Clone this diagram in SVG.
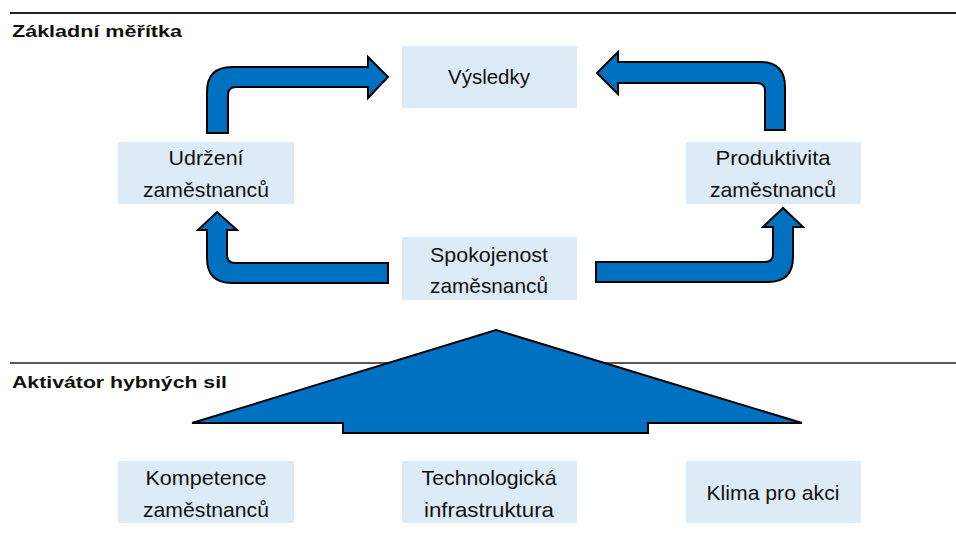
<svg xmlns="http://www.w3.org/2000/svg" width="956" height="549" viewBox="0 0 956 549">
<style>
.box{fill:#DDEBF7}
.t{font-family:"Liberation Sans",Arial,sans-serif;font-size:21px;fill:#111;text-anchor:middle}
.h{font-family:"Liberation Sans",Arial,sans-serif;font-size:17px;font-weight:bold;fill:#111}
.arr{fill:#0070C0;stroke:#000;stroke-width:2;stroke-linejoin:miter}
.rule{stroke:#222;fill:none}
</style>
<rect width="956" height="549" fill="#fff"/>
<line class="rule" x1="10" y1="13" x2="956" y2="13" stroke-width="2"/>
<line class="rule" x1="10" y1="363" x2="956" y2="363" stroke-width="1.5"/>
<text class="h" x="12" y="37" textLength="170" lengthAdjust="spacingAndGlyphs">Základní měřítka</text>
<text class="h" x="12" y="388" textLength="215" lengthAdjust="spacingAndGlyphs">Aktivátor hybných sil</text>

<g id="connectors">
<path class="arr" d="M207,133 L207,92 Q207,67 232,67 L368,67 L368,57 L388,77 L368,98 L368,87 L236,87 Q228,87 228,95 L228,133 Z"/>
<path class="arr" d="M785,130 L785,87 Q785,62 760,62 L618,62 L618,52 L597,73 L618,94 L618,83 L757,83 Q765,83 765,91 L765,130 Z"/>
<path class="arr" d="M388,263 L235,263 Q227,263 227,255 L227,230 L237,230 L217,212 L198,230 L207,230 L207,258 Q207,283 232,283 L388,283 Z"/>
<path class="arr" d="M596,262 L765,262 Q773,262 773,254 L773,227 L763,227 L783,208 L803,227 L793,227 L793,257 Q793,282 768,282 L596,282 Z"/>
<polygon class="arr" stroke-width="1.5" points="496,330 802,423 648,423 648,433 343,433 343,423 192,423"/>
</g>

<g id="vysledky"><rect class="box" x="402" y="46" width="175" height="62"/><text class="t" x="489" y="84" textLength="82" lengthAdjust="spacingAndGlyphs">Výsledky</text></g>
<g id="udrzeni"><rect class="box" x="118" y="142" width="176" height="62"/><text class="t" x="206" y="165" textLength="75" lengthAdjust="spacingAndGlyphs">Udržení</text><text class="t" x="206" y="197" textLength="126" lengthAdjust="spacingAndGlyphs">zaměstnanců</text></g>
<g id="produktivita"><rect class="box" x="686" y="142" width="175" height="62"/><text class="t" x="773" y="165" textLength="115" lengthAdjust="spacingAndGlyphs">Produktivita</text><text class="t" x="773" y="197" textLength="126" lengthAdjust="spacingAndGlyphs">zaměstnanců</text></g>
<g id="spokojenost"><rect class="box" x="402" y="237" width="175" height="63"/><text class="t" x="489" y="262" textLength="118" lengthAdjust="spacingAndGlyphs">Spokojenost</text><text class="t" x="489" y="293" textLength="118" lengthAdjust="spacingAndGlyphs">zaměsnanců</text></g>
<g id="kompetence"><rect class="box" x="118" y="461" width="176" height="62"/><text class="t" x="206" y="485" textLength="121" lengthAdjust="spacingAndGlyphs">Kompetence</text><text class="t" x="206" y="517" textLength="126" lengthAdjust="spacingAndGlyphs">zaměstnanců</text></g>
<g id="technologicka"><rect class="box" x="402" y="461" width="175" height="62"/><text class="t" x="489" y="485" textLength="135" lengthAdjust="spacingAndGlyphs">Technologická</text><text class="t" x="489" y="517" textLength="130" lengthAdjust="spacingAndGlyphs">infrastruktura</text></g>
<g id="klima"><rect class="box" x="686" y="461" width="175" height="62"/><text class="t" x="773" y="500" textLength="133" lengthAdjust="spacingAndGlyphs">Klima pro akci</text></g>
</svg>
